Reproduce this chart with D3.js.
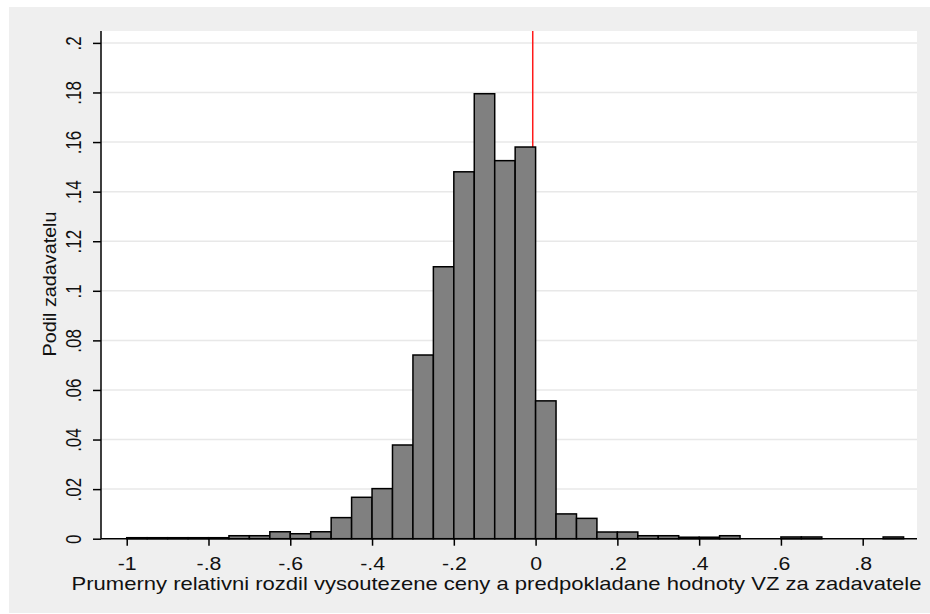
<!DOCTYPE html>
<html>
<head>
<meta charset="utf-8">
<script src="https://cdn.jsdelivr.net/npm/d3@7"></script>
<style>
  html, body { margin: 0; padding: 0; background: #ffffff; }
  svg { display: block; }
  text { font-family: "Liberation Sans", Arial, sans-serif; fill: #111; }
</style>
</head>
<body>
<svg id="chart" width="930" height="614"></svg>
<script>
// Histogram bins: left edges and share of contracting authorities per bin (bin width 0.05)
const binWidth = 0.05;
const binStarts = [
  -1.00, -0.95, -0.90, -0.85, -0.80, -0.75, -0.70, -0.65, -0.60, -0.55,
  -0.50, -0.45, -0.40, -0.35, -0.30, -0.25, -0.20, -0.15, -0.10, -0.05,
   0.00,  0.05,  0.10,  0.15,  0.20,  0.25,  0.30,  0.35,  0.40,  0.45,
   0.50,  0.55,  0.60,  0.65,  0.70,  0.75,  0.80,  0.85
];
const shares = [
  0.0004, 0.0004, 0.0004, 0.0004, 0.0004, 0.0012, 0.0012, 0.0028, 0.0020, 0.0028,
  0.0085, 0.0167, 0.0202, 0.0378, 0.0741, 0.1097, 0.1480, 0.1795, 0.1525, 0.1580,
  0.0556, 0.0100, 0.0082, 0.0027, 0.0027, 0.0012, 0.0012, 0.0006, 0.0006, 0.0012,
  0.0000, 0.0000, 0.0007, 0.0007, 0.0000, 0.0000, 0.0000, 0.0007
];
const xTicks = [-1, -0.8, -0.6, -0.4, -0.2, 0, 0.2, 0.4, 0.6, 0.8];
const yTicks = [0, 0.02, 0.04, 0.06, 0.08, 0.1, 0.12, 0.14, 0.16, 0.18, 0.2];
const refLineX = -0.007;
const xTitle = "Prumerny relativni rozdil vysoutezene ceny a predpokladane hodnoty VZ za zadavatele";
const yTitle = "Podil zadavatelu";

const svg = d3.select("#chart");
const plot = { left: 101, right: 917, top: 31, bottom: 538.7 };

// outer graph region
svg.append("rect").attr("x", 9).attr("y", 7).attr("width", 921).attr("height", 606)
  .attr("fill", "#efefef");
// plot region
svg.append("rect").attr("x", plot.left).attr("y", plot.top)
  .attr("width", plot.right - plot.left).attr("height", plot.bottom - plot.top)
  .attr("fill", "#ffffff");

const x = d3.scaleLinear().domain([-1.0629, 0.9328]).range([plot.left, plot.right]);
const y = d3.scaleLinear().domain([0, 0.2048]).range([plot.bottom, plot.top]);

// Stata-style numbers: no leading zero, ASCII hyphen for negatives
const fmt = v => {
  if (Math.abs(v) < 1e-9) return "0";
  const s = String(+v.toFixed(4));
  return s.replace(/^(-?)0\./, "$1.");
};

// horizontal grid lines
svg.append("g").selectAll("line").data(yTicks.filter(v => v > 0)).join("line")
  .attr("x1", plot.left).attr("x2", plot.right)
  .attr("y1", d => y(d)).attr("y2", d => y(d))
  .attr("stroke", "#e8e8e8").attr("stroke-width", 1.5);

// reference line (drawn beneath the bars)
svg.append("line")
  .attr("x1", x(refLineX)).attr("x2", x(refLineX))
  .attr("y1", plot.top).attr("y2", plot.bottom)
  .attr("stroke", "#ff1a1a").attr("stroke-width", 1.5);

// bars
const bins = binStarts.map((s, i) => ({ x0: s, x1: s + binWidth, v: shares[i] }));
svg.append("g").selectAll("rect").data(bins.filter(d => d.v > 0)).join("rect")
  .attr("x", d => x(d.x0))
  .attr("y", d => y(d.v))
  .attr("width", d => x(d.x1) - x(d.x0))
  .attr("height", d => y(0) - y(d.v))
  .attr("fill", "#808080")
  .attr("stroke", "#000")
  .attr("stroke-width", 1.5);

// y axis
const yAxis = svg.append("g").attr("transform", `translate(${plot.left},0)`)
  .call(d3.axisLeft(y).tickValues(yTicks).tickFormat(fmt).tickSize(8).tickSizeOuter(0));
yAxis.select(".domain").attr("stroke", "#000").attr("stroke-width", 1.5)
  .attr("d", `M0,${plot.bottom}V${plot.top}`);
yAxis.selectAll(".tick line").attr("stroke", "#000").attr("stroke-width", 1.5);
yAxis.selectAll(".tick text")
  .attr("x", null).attr("dy", null)
  .attr("font-size", 17)
  .attr("text-anchor", "middle")
  .attr("transform", "translate(-20,0) scale(1.35,1) rotate(-90)")
  .attr("fill", "#111");

// x axis
const xAxis = svg.append("g").attr("transform", `translate(0,${plot.bottom})`)
  .call(d3.axisBottom(x).tickValues(xTicks).tickFormat(fmt).tickSize(7).tickSizeOuter(0));
xAxis.select(".domain").attr("stroke", "#000").attr("stroke-width", 1.5)
  .attr("d", `M${plot.left},0H${plot.right}`);
xAxis.selectAll(".tick line").attr("stroke", "#000").attr("stroke-width", 1.5);
xAxis.selectAll(".tick text")
  .attr("y", null).attr("dy", null)
  .attr("font-size", 18.5)
  .attr("text-anchor", "middle")
  .attr("transform", "translate(0,31.5) scale(1.15,1)")
  .attr("fill", "#111");

// axis titles
svg.append("text")
  .attr("x", 496.5).attr("y", 589.5)
  .attr("text-anchor", "middle")
  .attr("font-size", 18.5)
  .attr("textLength", 850).attr("lengthAdjust", "spacingAndGlyphs")
  .text(xTitle);

svg.append("text")
  .attr("transform", `translate(56,284) rotate(-90)`)
  .attr("text-anchor", "middle")
  .attr("font-size", 18.5)
  .attr("textLength", 145).attr("lengthAdjust", "spacingAndGlyphs")
  .text(yTitle);
</script>
</body>
</html>
